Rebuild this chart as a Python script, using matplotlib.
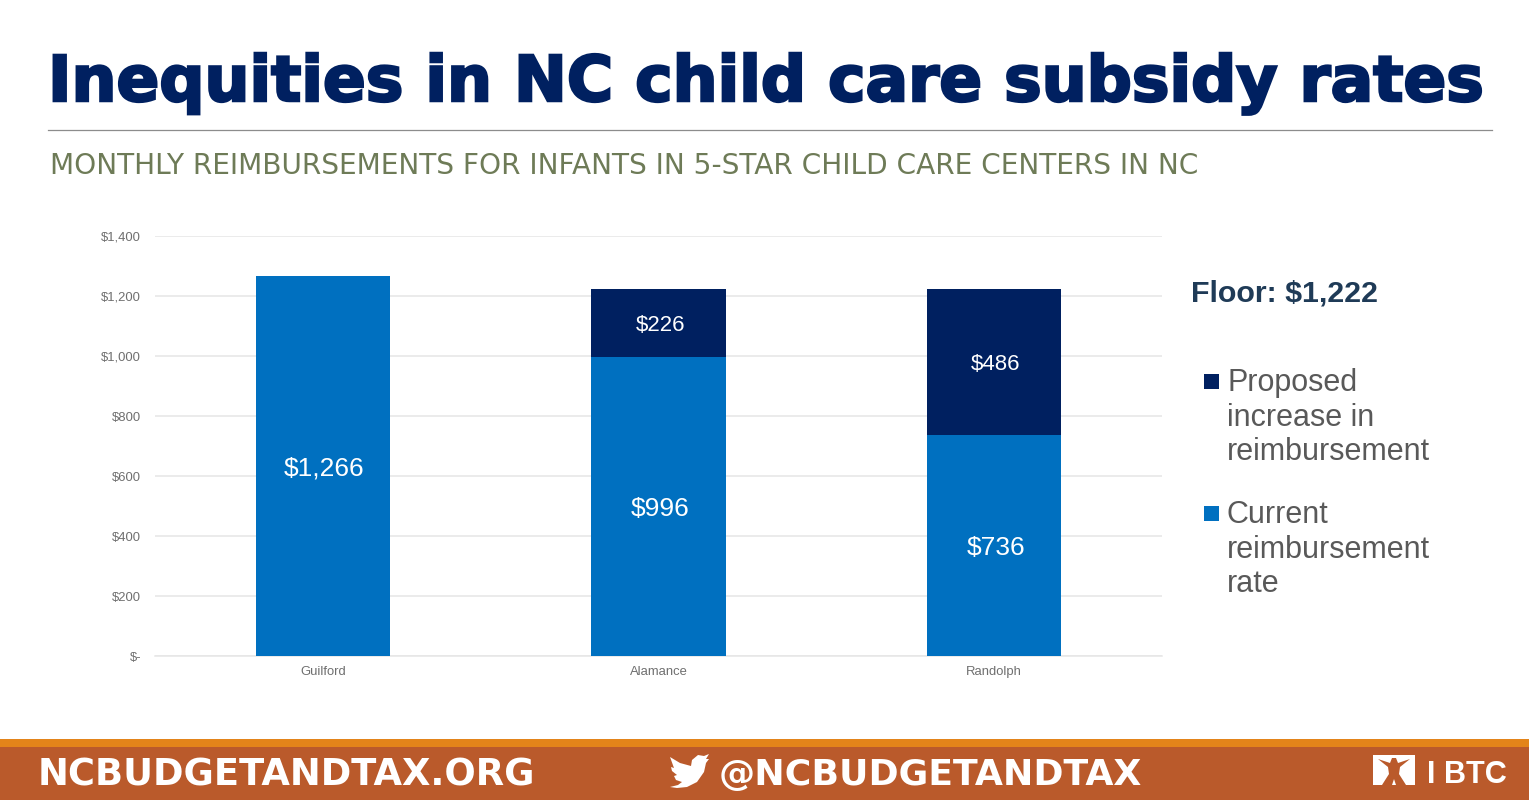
"""Inequities in NC child care subsidy rates - stacked bars with slide furniture."""
import matplotlib
matplotlib.use("Agg")
import matplotlib.pyplot as plt
from matplotlib.patches import Rectangle, Polygon
from matplotlib.ticker import FuncFormatter
import matplotlib.patheffects as pe
import numpy as np

counties = ["Guilford", "Alamance", "Randolph"]
current = [1266, 996, 736]
proposed = [0, 226, 486]
yticks = [0, 200, 400, 600, 800, 1000, 1200, 1400]
current_label = "Current\nreimbursement\nrate"
proposed_label = "Proposed\nincrease in\nreimbursement"

BLUE = "#0070C0"; NAVY = "#002060"; GREY = "#595959"; TICK = "#6F6F6F"; GRID = "#E6E6E6"
BROWN = "#BA5A2B"
SANS = "Liberation Sans"
W, H = 1529, 800

fig = plt.figure(figsize=(W / 100, H / 100), dpi=100, facecolor="white")

# overlay in pixel coordinates for the slide furniture
bg = fig.add_axes([0, 0, 1, 1])
bg.set_xlim(0, W); bg.set_ylim(H, 0); bg.axis("off")


def fit_text(x, y, s, width, **kw):
    # scale the font so the string spans the wanted pixel width
    t = bg.text(x, y, s, ha="left", va="baseline", **kw)
    r = fig.canvas.get_renderer()
    t.set_fontsize(t.get_fontsize() * width / t.get_window_extent(r).width)
    return t


fit_text(48, 101, "Inequities in NC child care subsidy rates", 1435, family="DejaVu Sans",
         fontweight="bold", color=NAVY, fontsize=44,
         path_effects=[pe.withStroke(linewidth=1.8, foreground=NAVY, joinstyle="miter")])
bg.plot([48, 1492], [129.5, 129.5], color="#8C8C8C", lw=0.9)
fit_text(50, 174, "MONTHLY REIMBURSEMENTS FOR INFANTS IN 5-STAR CHILD CARE CENTERS IN NC", 1155,
         family="DejaVu Sans", color="#6E7B57", fontsize=17)
bg.text(1191, 302, "Floor: $1,222", family=SANS, fontweight="bold", fontsize=21.9, color="#1F3B57")

# legend, first line of each entry lines up with its square
for y, c, lab in [(381, NAVY, proposed_label), (513, BLUE, current_label)]:
    bg.add_patch(Rectangle((1204, y - 7.5), 15, 15, color=c, lw=0))
    bg.text(1227, y - 13, lab, family=SANS, fontsize=22, color=GREY, va="top", linespacing=1.2)

# footer
bg.add_patch(Rectangle((0, 747), W, 53, color=BROWN, lw=0))
bg.add_patch(Rectangle((0, 739), W, 8, color="#E3841A", lw=0))
bold_white = dict(family="DejaVu Sans", fontweight="bold", color="white", fontsize=24)
fit_text(38, 785, "NCBUDGETANDTAX.ORG", 498, **bold_white)
fit_text(719, 785, "@NCBUDGETANDTAX", 425, **bold_white)
bird = [(670, 757), (680, 763), (691, 766), (692, 760), (698, 755), (704, 756), (709, 754),
        (706, 759), (709, 759), (706, 763), (704, 772), (697, 782), (687, 787), (677, 788),
        (670, 787), (678, 785), (682, 782), (676, 780), (674, 776), (677, 775), (672, 771),
        (671, 767), (674, 768)]
bg.add_patch(Polygon(bird, closed=True, color="white", lw=0))

# BTC logo
bg.add_patch(Rectangle((1373, 755), 42, 30, color="white", lw=0))
figure_pts = [(1378, 759), (1390, 763), (1392, 758), (1396, 758), (1398, 763), (1410, 759),
              (1400, 767), (1399, 774), (1406, 785), (1396, 785), (1394, 779), (1392, 785),
              (1382, 785), (1389, 774), (1388, 767)]
bg.add_patch(Polygon(figure_pts, closed=True, color=BROWN, lw=0))
fit_text(1427, 783, "I BTC", 80, family=SANS, fontweight="bold", color="white", fontsize=24)

# chart
ax = fig.add_axes([155 / W, 1 - 656 / H, (1162 - 155) / W, (656 - 236) / H])
ax.patch.set_alpha(0)
x = np.arange(len(counties))
b1 = ax.bar(x, current, 0.4, color=BLUE, zorder=3)
b2 = ax.bar(x, proposed, 0.4, bottom=current, color=NAVY, zorder=3)


def money(v):
    return f"${v:,.0f}" if v > 0 else ""


labs = ax.bar_label(b1, labels=[money(v) for v in current], label_type="center", color="white",
                    fontsize=19, family=SANS)
labs += ax.bar_label(b2, labels=[money(v) for v in proposed], label_type="center", color="white",
                     fontsize=16, family=SANS)
for t in labs:
    t.xyann = (1.2, -1.5)

ax.set_xlim(-0.5, 2.5); ax.set_ylim(0, 1400)
ax.set_xticks(x); ax.set_xticklabels(counties, family=SANS, fontsize=9.4, color=TICK)
ax.set_yticks(yticks)
ax.yaxis.set_major_formatter(FuncFormatter(lambda v, p: f"${v:,.0f}" if v else "$-"))
for lab in ax.get_yticklabels():
    lab.set_family(SANS); lab.set_fontsize(9.4); lab.set_color(TICK)
ax.tick_params(axis="both", length=0)
ax.tick_params(axis="y", pad=10)
ax.tick_params(axis="x", pad=7.5)
ax.grid(axis="y", color=GRID, lw=1.1, zorder=0)
ax.set_axisbelow(True)
for s in ["top", "right", "left"]:
    ax.spines[s].set_visible(False)
ax.spines["bottom"].set_color(GRID); ax.spines["bottom"].set_linewidth(1.1)

fig.savefig("out.png", dpi=100, facecolor="white")
